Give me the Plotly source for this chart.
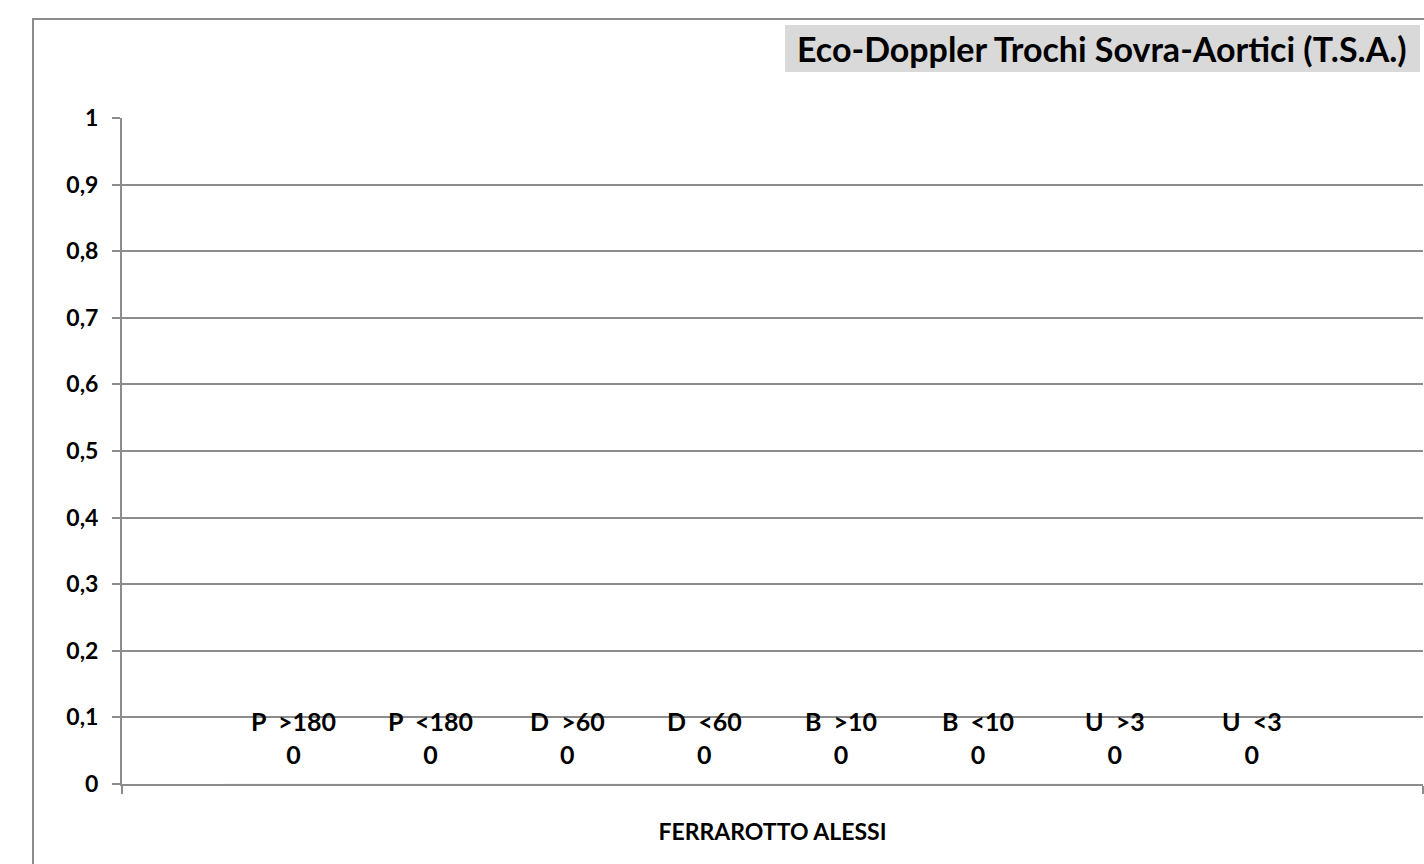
import plotly.graph_objects as go

# Chart data
category = ["FERRAROTTO ALESSI"]
series_names = ["P  >180", "P  <180", "D  >60", "D  <60", "B  >10", "B  <10", "U  >3", "U  <3"]
series_values = [0, 0, 0, 0, 0, 0, 0, 0]
y_ticks = [0, 0.1, 0.2, 0.3, 0.4, 0.5, 0.6, 0.7, 0.8, 0.9, 1]

W, H = 1424, 864
PL, PR, PT, PB = 122, 1423, 118, 784  # plot area in pixels
BARGAP = 0.158


def px_x(px):
    return (px - PL) / (PR - PL)


def px_y(py):
    return (PB - py) / (PB - PT)


GRID = "#8c8c8c"
FONT = "Lato"

fig = go.Figure()
n = len(series_names)
slot = (1 - BARGAP) / n
for i, (name, val) in enumerate(zip(series_names, series_values)):
    fig.add_trace(go.Bar(
        x=category,
        y=[val],
        name=name,
        marker_color="#4f81bd",
        cliponaxis=False,
    ))
    # data label: series name over the value, centred on the bar
    fig.add_annotation(
        x=-0.5 + BARGAP / 2 + (i + 0.5) * slot,
        y=val,
        xref="x", yref="y",
        text=f"<b>{name}</b><br><b>{val}</b>",
        showarrow=False,
        xanchor="center", yanchor="bottom",
        yshift=13,
        font=dict(family=FONT, size=25, color="#000000"),
    )

fig.update_layout(
    width=W,
    height=H,
    margin=dict(l=PL, r=W - PR, t=PT, b=H - PB),
    paper_bgcolor="white",
    plot_bgcolor="white",
    barmode="group",
    bargap=BARGAP,
    bargroupgap=0,
    showlegend=False,
    separators=",.",
    xaxis=dict(
        type="category",
        range=[-0.5, 0.5],
        showgrid=False,
        showline=True,
        linecolor=GRID,
        linewidth=2,
        ticks="outside",
        tickson="boundaries",
        ticklen=8,
        tickwidth=2,
        tickcolor=GRID,
        ticklabelstandoff=26,
        tickfont=dict(family=FONT, size=23, color="#000000", weight="bold"),
    ),
    yaxis=dict(
        range=[0, 1],
        tickvals=y_ticks,
        showgrid=True,
        gridcolor=GRID,
        gridwidth=2,
        showline=True,
        linecolor=GRID,
        linewidth=2,
        ticks="outside",
        ticklen=8,
        tickwidth=2,
        tickcolor=GRID,
        ticklabelstandoff=9,
        zeroline=False,
        tickfont=dict(family=FONT, size=23, color="#000000", weight="bold"),
    ),
)

# Outer chart frame
fig.add_shape(
    type="rect", xref="paper", yref="paper",
    x0=px_x(33), x1=px_x(1480), y0=px_y(930), y1=px_y(19),
    line=dict(color=GRID, width=2), fillcolor="rgba(0,0,0,0)", layer="below",
)

# Title box
fig.add_shape(
    type="rect", xref="paper", yref="paper",
    x0=px_x(785), x1=px_x(1420), y0=px_y(72), y1=px_y(25),
    line=dict(width=0), fillcolor="#d9d9d9", layer="below",
)
fig.add_annotation(
    xref="paper", yref="paper",
    x=px_x(1102), y=px_y(48),
    text="<b>Eco-Doppler Trochi Sovra-Aortici (T.S.A.)</b>",
    showarrow=False,
    font=dict(family=FONT, size=34, color="#000000"),
    xanchor="center", yanchor="middle",
)

fig.write_html("out.html")
